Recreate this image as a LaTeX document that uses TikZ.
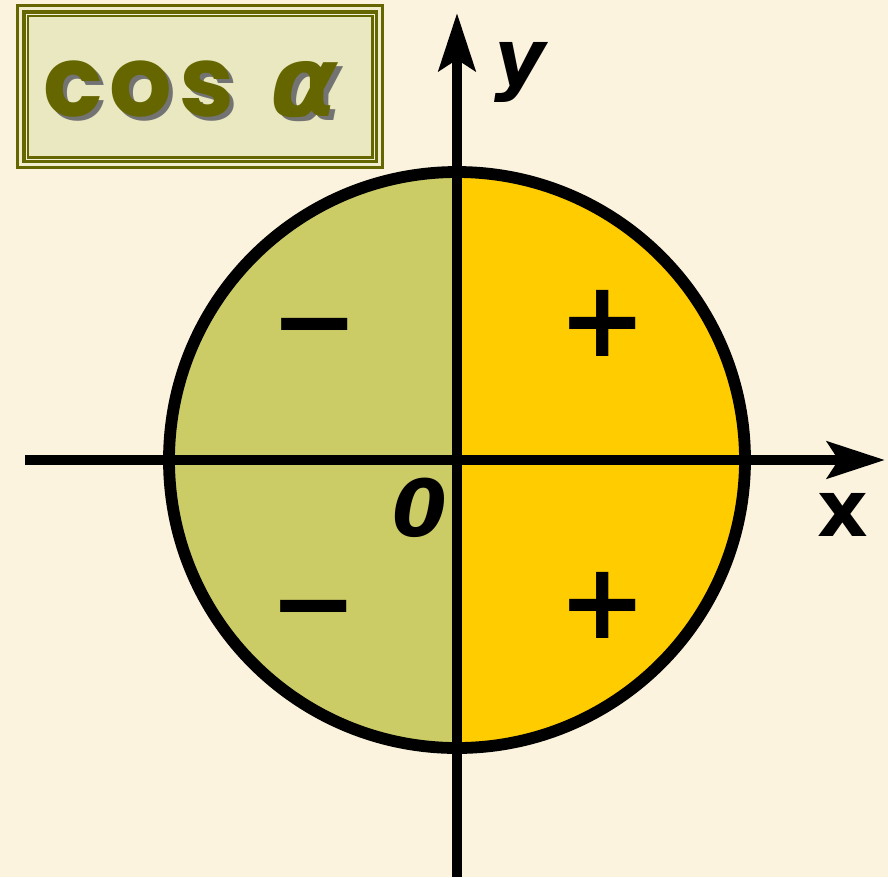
\documentclass[tikz,border=0pt]{standalone}
\usepackage{fontspec}
\setmainfont{DejaVu Sans}
\newfontfamily\titlefont[LetterSpace=7]{Poppins}
\newfontfamily\grkfont{DejaVu Sans}
\usetikzlibrary{arrows.meta}
\definecolor{paper}{RGB}{251,243,222}
\definecolor{titleolive}{RGB}{102,102,0}
\definecolor{panel}{RGB}{233,232,192}
\definecolor{negfill}{RGB}{204,204,102}
\definecolor{posfill}{RGB}{255,204,0}
\newcommand\shadowed[1]{\makebox[0pt][l]{\hspace{3pt}\raisebox{-3pt}{\color{black!55}#1}}#1}

\begin{document}
\begin{tikzpicture}[
  x=0.025cm,y=-0.025cm,
  axis/.style={line width=7.3pt,-{Stealth[length=41pt,width=26pt,inset=8pt]}},
  rim/.style={line width=8.4pt},
  sgn/.style={font=\fontsize{75}{75}\selectfont\bfseries,inner sep=0pt},
  lbl/.style={font=\fontsize{56}{56}\selectfont\bfseries,inner sep=0pt},
  ttl/.style={font=\titlefont\fontsize{70}{70}\selectfont\bfseries,inner sep=0pt}]
\fill[paper] (0,0) rectangle (888,877);
\useasboundingbox (0,0) rectangle (888,877);
% title frame
\fill[titleolive] (16,4) rectangle (384,169);
\fill[paper!50!panel] (19,7) rectangle (381,166);
\fill[titleolive] (22,10) rectangle (378,163);
\fill[panel] (29,17) rectangle (371,156);
\draw[panel!60!white,line width=0.7pt] (26,14) rectangle (374,159);
\node[ttl,text=titleolive,anchor=base west] (title) at (43,116) {\shadowed{cos\hspace{26pt}{\grkfont\itshape α}}};
% quadrants
\coordinate (o) at (457,460);
\begin{scope}
\clip (o) circle[radius=288];
\fill[negfill] (0,0) rectangle (457,877);
\fill[posfill] (457,0) rectangle (888,877);
\end{scope}
\draw[rim] (o) circle[radius=288];
% axes
\coordinate (xs) at (25,460);
\coordinate (xe) at (885,460);
\coordinate (ys) at (457,877);
\coordinate (ye) at (457,13);
\draw[axis] (xs) -- (xe);
\draw[axis] (ys) -- (ye);
\node[lbl,font=\fontsize{56}{56}\selectfont\bfseries\itshape] (ylbl) at (520,72) {y};
\node[lbl] (xlbl) at (843,515) {x};
\node[lbl,font=\fontsize{56}{56}\selectfont\bfseries\itshape] (zero) at (420,508) {0};
% signs
\foreach \p/\s in {{315,338}/−,{314,620}/−,{603,323}/+,{603,605}/+}
  \node[sgn] at (\p) {\s};
\end{tikzpicture}
\end{document}
